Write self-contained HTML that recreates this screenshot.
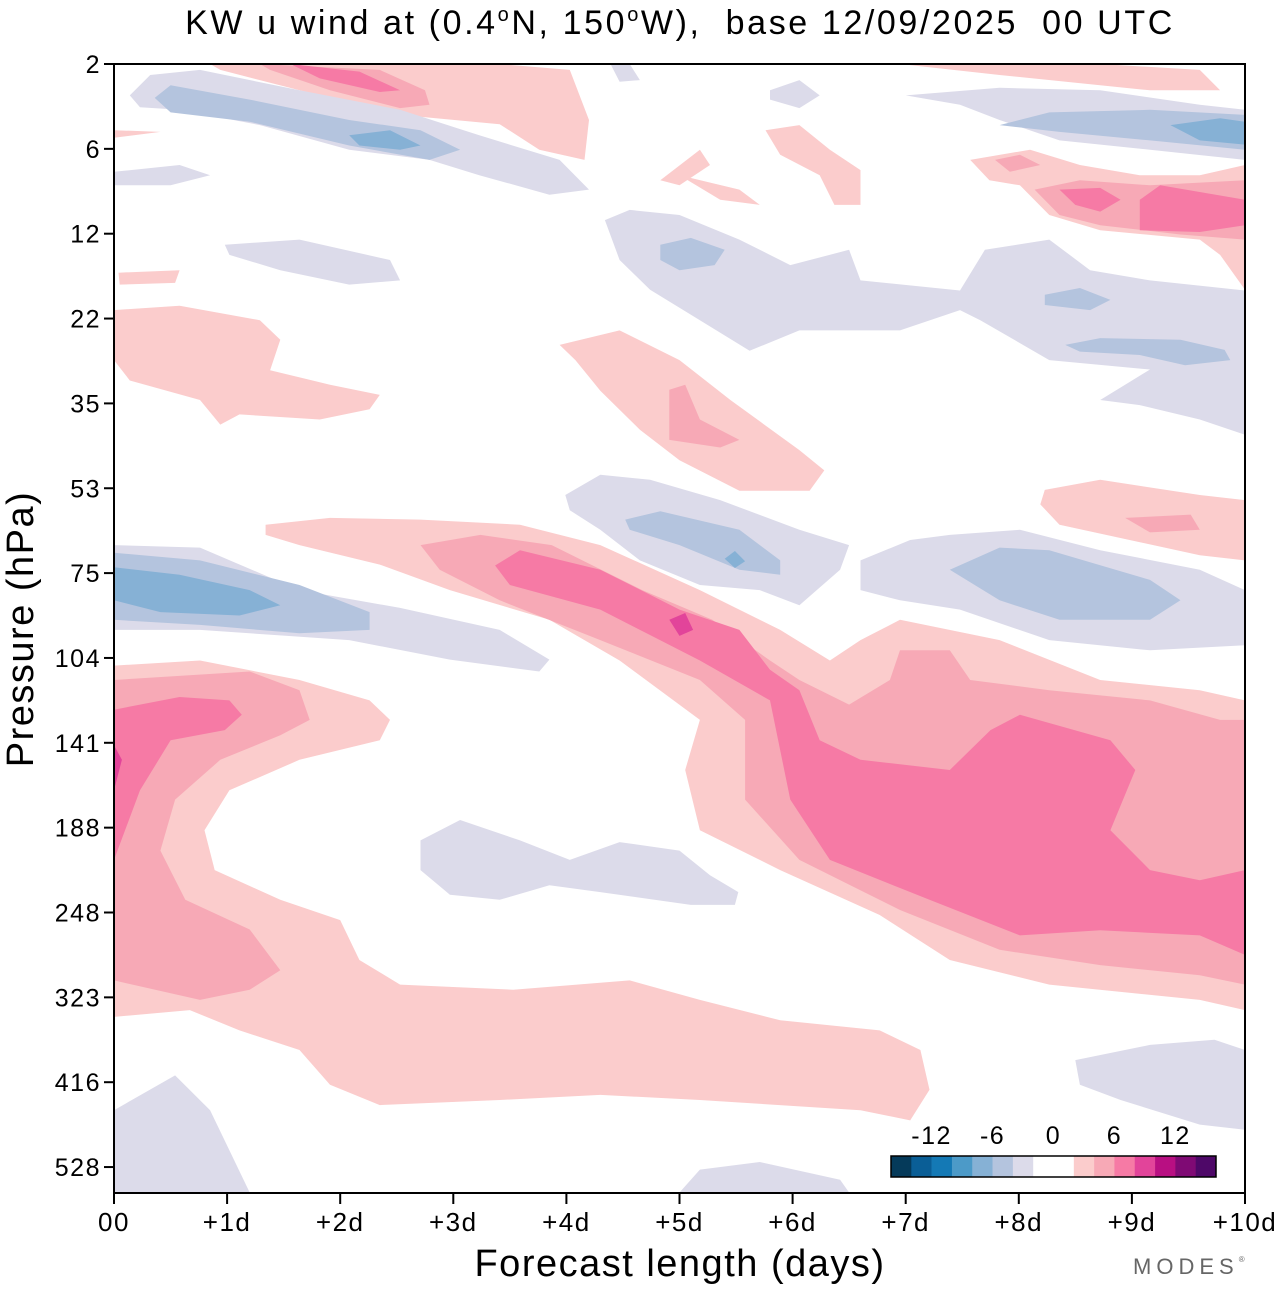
<!DOCTYPE html>
<html><head><meta charset="utf-8"><style>
html,body{margin:0;padding:0;background:#fff;}
body{width:1280px;height:1286px;overflow:hidden;font-family:"Liberation Sans",Arial,sans-serif;}
svg text{font-family:"Liberation Sans",Arial,sans-serif;}
</style></head><body>
<svg id="chart" width="1280" height="1286" viewBox="0 0 1280 1286" xmlns="http://www.w3.org/2000/svg">
<text x="680" y="34" font-size="34" letter-spacing="2.6" text-anchor="middle">KW u wind at (0.4<tspan font-size="20" dy="-13">o</tspan><tspan dy="13">N, 150</tspan><tspan font-size="20" dy="-13">o</tspan><tspan dy="13">W),&#160;&#160;base 12/09/2025&#160;&#160;00 UTC</tspan></text>
<g id="shapes"></g>
<rect x="114" y="64" width="1131" height="1129" fill="none" stroke="#000" stroke-width="2"/>
<g id="axes"></g>
<text x="680" y="1276" font-size="38" letter-spacing="1.5" text-anchor="middle">Forecast length (days)</text>
<text transform="translate(33,629) rotate(-90)" font-size="38" letter-spacing="1.5" text-anchor="middle">Pressure (hPa)</text>
<text x="1133" y="1274" font-size="22" fill="#666" letter-spacing="5">MODES<tspan font-size="8" dy="-12">®</tspan></text>
<g id="colorbar"></g>
</svg>
<script>
const pressureTicks = ["2","6","12","22","35","53","75","104","141","188","248","323","416","528"];
const dayTicks = ["00","+1d","+2d","+3d","+4d","+5d","+6d","+7d","+8d","+9d","+10d"];
const cbLabels = ["-12","-6","0","6","12"];
const cbColors = ["#053a5a","#0a5e96","#1479b5","#4c9ac8","#86b1d5","#b4c4de","#dcdbea","#ffffff","#ffffff","#fbcccc","#f7a9b6","#f67aa5","#e2449a","#b80f82","#7f0a74","#4e0868"];
const levelColors = {"-3":"#86b1d5","-2":"#b4c4de","-1":"#dcdbea","1":"#fbcccc","2":"#f7a9b6","3":"#f67aa5","4":"#e2449a"};
const shapeLevels = [1,2,3,4, 1,2,3,4, 1,2, 1,1, 1,2,3, -1,-2,-3, -1,1, -1, -1,-2,-2,-2, -1,-2,-3, -1,-1, 1, 1,2,3,3,2, 1,1,1, 1,2, -1,-2,-3, -1,-2, -1,-2,-3, -1, -1,-1,-1];
const shapePoints = [
[[0,7.09],[0.76,7.03],[1.64,7.26],[2.26,7.5],[2.44,7.73],[2.35,7.97],[1.64,8.2],[1.02,8.56],[0.8,9.03],[0.89,9.5],[1.47,9.85],[2.0,10.09],[2.17,10.56],[2.53,10.85],[3.53,10.91],[4.56,10.8],[5.18,11.03],[5.89,11.27],[6.77,11.39],[7.13,11.62],[7.21,12.09],[7.04,12.45],[6.6,12.33],[5.18,12.21],[4.3,12.15],[3.41,12.21],[2.35,12.27],[1.91,12.03],[1.64,11.62],[1.11,11.39],[0.67,11.15],[0,11.23]],
[[0,7.26],[1.2,7.16],[1.64,7.38],[1.73,7.73],[1.47,7.91],[0.94,8.2],[0.54,8.67],[0.41,9.27],[0.63,9.85],[1.2,10.2],[1.47,10.68],[1.2,10.91],[0.76,11.03],[0,10.8]],
[[0,7.61],[0.58,7.46],[1.02,7.5],[1.13,7.67],[0.98,7.85],[0.5,7.97],[0.23,8.56],[0,9.38]],
[[0,8.03],[0.07,8.2],[0,8.56]],
[[1.34,5.43],[1.91,5.35],[2.71,5.37],[3.59,5.43],[4.3,5.67],[5.18,6.2],[5.89,6.67],[6.33,7.03],[6.6,6.79],[6.95,6.55],[7.83,6.79],[8.72,7.26],[9.6,7.38],[10,7.5],[10,11.15],[9.6,11.03],[8.27,10.85],[7.39,10.56],[6.77,10.03],[5.89,9.5],[5.18,9.03],[5.05,8.32],[5.18,7.73],[4.47,7.03],[3.85,6.55],[2.97,6.2],[2.35,5.9],[1.64,5.67],[1.34,5.55]],
[[2.71,5.67],[3.24,5.55],[3.87,5.67],[4.67,6.2],[5.29,6.55],[5.8,7.03],[6.06,7.26],[6.5,7.55],[6.86,7.26],[6.95,6.91],[7.39,6.91],[7.57,7.26],[8.27,7.38],[9.16,7.5],[9.78,7.73],[10,7.73],[10,10.85],[9.6,10.74],[8.72,10.62],[7.83,10.44],[6.95,9.97],[6.06,9.38],[5.58,8.67],[5.58,7.73],[5.18,7.26],[4.3,6.79],[3.41,6.32],[2.88,5.96]],
[[3.37,5.91],[3.59,5.73],[4.3,5.96],[5.0,6.43],[5.53,6.67],[5.8,7.14],[6.06,7.38],[6.24,7.97],[6.6,8.2],[7.39,8.32],[7.75,7.85],[8.01,7.67],[8.81,7.97],[9.03,8.32],[8.81,9.03],[9.16,9.5],[9.6,9.62],[10,9.5],[10,10.5],[9.6,10.27],[8.72,10.21],[8.01,10.27],[7.21,9.85],[6.33,9.38],[5.98,8.67],[5.8,7.5],[5.18,7.03],[4.3,6.43],[3.5,6.14]],
[[4.91,6.55],[5.05,6.47],[5.12,6.67],[5.0,6.74]],
[[3.94,3.31],[4.47,3.14],[5.0,3.49],[5.45,3.96],[6.06,4.55],[6.28,4.79],[6.15,5.03],[5.53,5.03],[5.0,4.67],[4.65,4.31],[4.3,3.85],[4.08,3.49]],
[[4.91,3.84],[5.05,3.78],[5.18,4.19],[5.53,4.43],[5.36,4.52],[4.91,4.43]],
[[0,2.9],[0.58,2.85],[1.29,3.02],[1.47,3.25],[1.38,3.61],[1.91,3.78],[2.35,3.9],[2.26,4.07],[1.82,4.19],[1.11,4.13],[0.94,4.25],[0.76,3.96],[0.14,3.73],[0,3.49]],
[[0.04,2.46],[0.58,2.43],[0.54,2.58],[0.05,2.6]],
[[0.85,0],[3.41,0],[4.03,0.07],[4.2,0.66],[4.16,1.13],[3.76,1.01],[3.41,0.71],[2.53,0.6],[1.64,0.31],[0.94,0.07]],
[[1.29,0],[2.35,0.07],[2.75,0.31],[2.79,0.48],[2.53,0.52],[1.91,0.31],[1.38,0.07]],
[[1.56,0],[2.17,0.09],[2.53,0.31],[2.35,0.33],[1.82,0.17]],
[[0.14,0.37],[0.32,0.13],[0.76,0.07],[1.64,0.31],[2.53,0.54],[3.23,0.84],[3.94,1.13],[4.2,1.48],[3.85,1.54],[3.23,1.31],[2.79,1.13],[2.08,1.01],[1.29,0.72],[0.58,0.54],[0.23,0.51]],
[[0.36,0.4],[0.5,0.25],[1.2,0.42],[2.08,0.66],[2.71,0.78],[3.06,1.01],[2.79,1.13],[2.08,0.96],[1.2,0.68],[0.5,0.57]],
[[2.08,0.84],[2.44,0.78],[2.71,0.96],[2.53,1.01],[2.17,0.96]],
[[0,1.27],[0.58,1.19],[0.85,1.31],[0.5,1.43],[0,1.43]],
[[0,0.78],[0.41,0.8],[0,0.87]],
[[0.98,2.13],[1.64,2.07],[2.44,2.31],[2.53,2.55],[2.08,2.6],[1.47,2.43],[1.02,2.25]],
[[4.34,1.84],[4.56,1.72],[5.0,1.78],[5.53,2.07],[5.98,2.37],[6.5,2.19],[6.6,2.55],[7.48,2.67],[7.7,2.19],[8.27,2.07],[8.63,2.43],[9.16,2.55],[10,2.67],[10,4.37],[9.6,4.19],[9.07,4.02],[8.72,3.96],[9.16,3.6],[8.27,3.49],[7.66,3.02],[7.48,2.9],[6.95,3.14],[6.06,3.14],[5.62,3.38],[5.18,3.02],[4.74,2.66],[4.47,2.31]],
[[4.83,2.13],[5.1,2.05],[5.4,2.19],[5.31,2.37],[5.0,2.43],[4.83,2.31]],
[[8.23,2.72],[8.54,2.64],[8.81,2.78],[8.63,2.9],[8.23,2.84]],
[[8.41,3.31],[8.72,3.23],[9.43,3.25],[9.82,3.37],[9.87,3.49],[9.47,3.55],[9.07,3.43],[8.54,3.39]],
[[7.0,0.37],[7.83,0.28],[8.72,0.31],[9.6,0.48],[10,0.54],[10,1.13],[9.16,1.01],[8.36,0.9],[7.83,0.66],[7.48,0.48]],
[[7.83,0.72],[8.27,0.57],[9.16,0.54],[10,0.6],[10,1.01],[9.16,0.9],[8.36,0.8]],
[[9.34,0.72],[9.78,0.64],[10,0.68],[10,0.95],[9.6,0.9]],
[[5.8,0.31],[6.06,0.19],[6.24,0.37],[6.06,0.52],[5.8,0.42]],
[[4.39,0],[4.56,0],[4.65,0.19],[4.47,0.21]],
[[6.95,0],[8.72,0],[9.6,0.07],[9.78,0.31],[9.16,0.31],[7.83,0.13]],
[[7.57,1.13],[8.1,1.01],[8.54,1.19],[9.07,1.31],[9.6,1.31],[10,1.19],[10,2.66],[9.78,2.25],[9.6,2.07],[8.72,1.96],[8.27,1.78],[8.01,1.43],[7.74,1.37]],
[[8.14,1.48],[8.54,1.37],[9.16,1.43],[10,1.37],[10,2.07],[9.43,2.01],[8.72,1.9],[8.36,1.78]],
[[8.36,1.48],[8.72,1.46],[8.9,1.6],[8.72,1.74],[8.5,1.66]],
[[9.07,1.6],[9.25,1.43],[10,1.6],[10,1.9],[9.6,1.98],[9.07,1.96]],
[[7.79,1.13],[8.01,1.07],[8.19,1.19],[7.92,1.27]],
[[5.76,0.78],[6.06,0.72],[6.33,1.01],[6.6,1.25],[6.6,1.66],[6.37,1.66],[6.24,1.31],[5.89,1.07]],
[[4.83,1.37],[5.18,1.01],[5.27,1.19],[5.0,1.43]],
[[5.0,1.31],[5.53,1.48],[5.71,1.66],[5.36,1.6]],
[[8.23,5.02],[8.72,4.9],[9.6,5.08],[10,5.14],[10,5.85],[9.6,5.79],[8.98,5.61],[8.36,5.43],[8.19,5.19]],
[[8.94,5.35],[9.52,5.31],[9.6,5.49],[9.16,5.52]],
[[3.99,5.08],[4.3,4.84],[4.74,4.9],[5.36,5.14],[6.06,5.49],[6.5,5.67],[6.42,5.96],[6.06,6.38],[5.71,6.2],[5.18,6.14],[4.65,5.85],[4.3,5.49],[4.03,5.26]],
[[4.52,5.37],[4.83,5.27],[5.53,5.49],[5.89,5.85],[5.89,6.02],[5.53,5.96],[5.0,5.67],[4.56,5.49]],
[[5.4,5.83],[5.49,5.74],[5.58,5.86],[5.49,5.94]],
[[6.6,5.85],[7.04,5.61],[7.39,5.55],[8.01,5.49],[8.72,5.73],[9.6,5.96],[10,6.2],[10,6.85],[9.16,6.91],[8.27,6.79],[7.48,6.43],[6.95,6.32],[6.6,6.2]],
[[7.39,5.96],[7.83,5.7],[8.27,5.73],[9.16,6.08],[9.43,6.32],[9.16,6.55],[8.36,6.55],[7.83,6.32]],
[[0,5.67],[0.76,5.7],[1.64,6.2],[2.53,6.41],[3.41,6.67],[3.85,7.02],[3.76,7.16],[2.97,7.02],[2.08,6.79],[0.76,6.67],[0,6.67]],
[[0,5.76],[0.76,5.85],[1.64,6.14],[2.26,6.46],[2.26,6.67],[1.64,6.71],[0.76,6.61],[0,6.55]],
[[0,5.93],[0.58,6.02],[1.2,6.2],[1.47,6.38],[1.11,6.5],[0.41,6.46],[0,6.32]],
[[2.71,9.15],[3.06,8.91],[3.59,9.15],[4.03,9.38],[4.47,9.17],[5.0,9.27],[5.27,9.56],[5.52,9.76],[5.49,9.91],[5.1,9.91],[4.3,9.76],[3.85,9.68],[3.41,9.85],[2.97,9.79],[2.71,9.5]],
[[0,12.33],[0.54,11.92],[0.85,12.33],[1.2,13.3],[0,13.3]],
[[5.0,13.3],[5.18,13.03],[5.71,12.94],[6.42,13.15],[6.5,13.3]],
[[8.5,11.74],[9.16,11.56],[9.73,11.5],[10,11.62],[10,12.56],[9.6,12.5],[8.9,12.21],[8.54,12.03]]
];
const X0=114, X1=1245, Y0=64, YSTEP=84.85;
function xScale(d){return X0+(X1-X0)*d/10;}
function yScale(i){return Y0+i*YSTEP;}
const NS="http://www.w3.org/2000/svg";
const shapesG=document.getElementById('shapes');
const clip=document.createElementNS(NS,'clipPath');clip.setAttribute('id','pc');
const cr=document.createElementNS(NS,'rect');cr.setAttribute('x',X0);cr.setAttribute('y',Y0);cr.setAttribute('width',X1-X0);cr.setAttribute('height',1193-Y0);
clip.appendChild(cr);document.getElementById('chart').appendChild(clip);
shapesG.setAttribute('clip-path','url(#pc)');
shapePoints.forEach((pts,k)=>{
  const p=document.createElementNS(NS,'polygon');
  p.setAttribute('points',pts.map(q=>xScale(q[0]).toFixed(1)+','+yScale(q[1]).toFixed(1)).join(' '));
  p.setAttribute('fill',levelColors[String(shapeLevels[k])]);
  
  
  shapesG.appendChild(p);
});
const axes=document.getElementById('axes');
pressureTicks.forEach((t,i)=>{
  const y=yScale(i);
  const l=document.createElementNS(NS,'line');
  l.setAttribute('x1',104);l.setAttribute('x2',114);l.setAttribute('y1',y);l.setAttribute('y2',y);l.setAttribute('stroke','#000');l.setAttribute('stroke-width','2');
  
  
  axes.appendChild(l);
  const tx=document.createElementNS(NS,'text');
  tx.setAttribute('x',101);tx.setAttribute('y',y+9);tx.setAttribute('font-size','25');tx.setAttribute('letter-spacing','1.5');tx.setAttribute('text-anchor','end');
  tx.textContent=t;
  
  
  axes.appendChild(tx);
});
dayTicks.forEach((t,i)=>{
  const x=xScale(i);
  const l=document.createElementNS(NS,'line');
  l.setAttribute('x1',x);l.setAttribute('x2',x);l.setAttribute('y1',1193);l.setAttribute('y2',1204);l.setAttribute('stroke','#000');l.setAttribute('stroke-width','2');
  
  
  axes.appendChild(l);
  const tx=document.createElementNS(NS,'text');
  tx.setAttribute('x',x);tx.setAttribute('y',1231);tx.setAttribute('font-size','26');tx.setAttribute('letter-spacing','1.5');tx.setAttribute('text-anchor','middle');
  tx.textContent=t;
  
  
  axes.appendChild(tx);
});
const cb=document.getElementById('colorbar');
const cbx=891, cbw=325/cbColors.length;
cbColors.forEach((c,i)=>{
  const r=document.createElementNS(NS,'rect');
  r.setAttribute('x',cbx+i*cbw);r.setAttribute('y',1156);r.setAttribute('width',cbw+0.3);r.setAttribute('height',21);r.setAttribute('fill',c);
  
  
  cb.appendChild(r);
});
const fr=document.createElementNS(NS,'rect');
fr.setAttribute('x',cbx);fr.setAttribute('y',1156);fr.setAttribute('width',325);fr.setAttribute('height',21);fr.setAttribute('fill','none');fr.setAttribute('stroke','#000');fr.setAttribute('stroke-width','1.5');


cb.appendChild(fr);
cbLabels.forEach((t,i)=>{
  const tx=document.createElementNS(NS,'text');
  tx.setAttribute('x',cbx+cbw*(2+i*3));tx.setAttribute('y',1144);tx.setAttribute('font-size','25');tx.setAttribute('letter-spacing','1.5');tx.setAttribute('text-anchor','middle');
  tx.textContent=t;
  
  
  cb.appendChild(tx);
});
</script>
</body></html>
